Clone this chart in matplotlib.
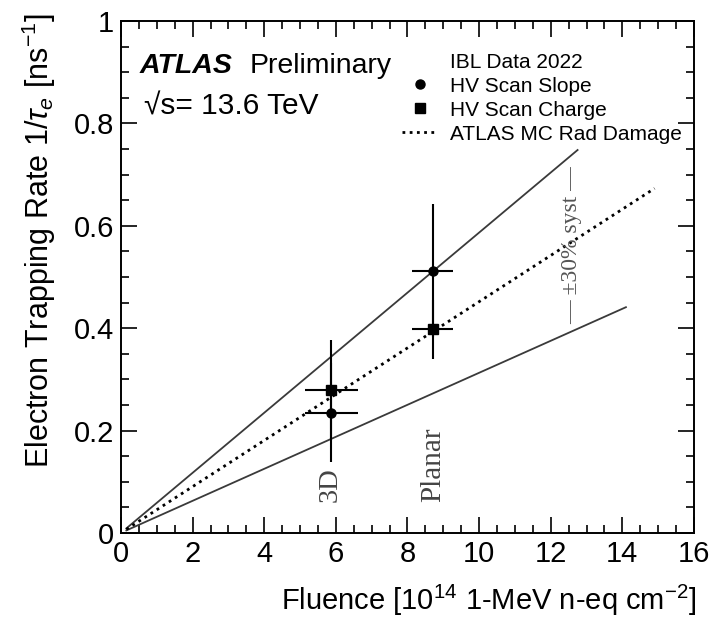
import matplotlib
matplotlib.use("Agg")
from matplotlib import pyplot as plt
from matplotlib.lines import Line2D
from matplotlib.ticker import MultipleLocator, FormatStrFormatter

sensor_labels = ['3D', 'Planar']
fluence = [5.87, 8.70]
fluence_err = [0.74, 0.57]
rate_slope = [0.235, 0.512]
rate_slope_err = [0.097, 0.13]
rate_charge = [0.280, 0.398]
rate_charge_err = [0.097, 0.058]

# MC prediction and +-30% band edges (end points of the drawn lines)
mc_fluence = [0.15, 14.9]
mc_rate = [0.007, 0.673]
up_fluence = [0.15, 12.75]
up_rate = [0.009, 0.748]
low_fluence = [0.15, 14.1]
low_rate = [0.005, 0.441]

SANS = ['Liberation Sans', 'DejaVu Sans']
SERIF = ['Liberation Serif', 'DejaVu Serif']

plt.rcParams['font.family'] = SANS
plt.rcParams['mathtext.fontset'] = 'custom'
plt.rcParams['mathtext.rm'] = 'Liberation Sans'
plt.rcParams['mathtext.it'] = 'Liberation Sans:italic'

fig = plt.figure(figsize=(7.13, 6.23), dpi=100)
ax = fig.add_axes([0.1697, 0.1445, 0.8036, 0.8218])

line_col = '#3a3a3a'
ax.plot(up_fluence, up_rate, color=line_col, lw=1.3)
ax.plot(low_fluence, low_rate, color=line_col, lw=1.3)
ax.plot(mc_fluence, mc_rate, color='black', lw=2.0, linestyle=(0, (1, 1.6)))

ax.errorbar(fluence, rate_slope, xerr=fluence_err, yerr=rate_slope_err,
            fmt='o', color='black', ms=6.5, elinewidth=1.5, capsize=0)
ax.errorbar(fluence, rate_charge, xerr=fluence_err, yerr=rate_charge_err,
            fmt='s', color='black', ms=6.5, elinewidth=1.5, capsize=0)

# sensor type labels
ax.text(fluence[0] - 0.03, 0.094, sensor_labels[0], rotation=90, ha='center', va='center',
        family=SERIF, fontsize=20.5, color='#444444')
ax.text(fluence[1] + 0.03, 0.133, sensor_labels[1], rotation=90, ha='center', va='center',
        family=SERIF, fontsize=21, color='#444444')
ax.text(12.58, 0.562, '\u2014 \u00b130% syst \u2014', rotation=90, ha='center', va='center',
        family=SERIF, fontsize=17, color='#555555')

# ATLAS label
ax.text(0.033, 0.898, 'ATLAS', transform=ax.transAxes, fontsize=20.5,
        fontweight='bold', fontstyle='italic')
ax.text(0.225, 0.898, 'Preliminary', transform=ax.transAxes, fontsize=20.5)
ax.text(0.040, 0.818, '\u221as= 13.6 TeV', transform=ax.transAxes, fontsize=21.5)

# legend
handles = [Line2D([], [], linestyle='none'),
           Line2D([], [], marker='o', color='black', linestyle='none', ms=6.5),
           Line2D([], [], marker='s', color='black', linestyle='none', ms=6.5),
           Line2D([], [], color='black', lw=2.0, linestyle=(0, (1, 1.6)))]
labels = ['IBL Data 2022', 'HV Scan Slope', 'HV Scan Charge', 'ATLAS MC Rad Damage']
ax.legend(handles, labels, loc='upper left', bbox_to_anchor=(0.49, 0.938),
          frameon=False, fontsize=15, handlelength=1.75, handletextpad=0.55,
          labelspacing=0.24, borderpad=0.0, borderaxespad=0.0)

ax.set_xlim(0, 16)
ax.set_ylim(0, 1)
ax.xaxis.set_major_locator(MultipleLocator(2))
ax.xaxis.set_minor_locator(MultipleLocator(0.5))
ax.yaxis.set_major_locator(MultipleLocator(0.2))
ax.yaxis.set_minor_locator(MultipleLocator(0.05))
ax.yaxis.set_major_formatter(FormatStrFormatter('%g'))
ax.tick_params(which='both', direction='in', top=True, right=True, width=1.2)
ax.tick_params(which='major', length=11.5, labelsize=21, pad=5)
ax.tick_params(which='minor', length=5.8)
for s in ax.spines.values():
    s.set_linewidth(1.4)

ax.set_xlabel('Fluence [10$^{14}$ 1-MeV n-eq cm$^{-2}$]', fontsize=21, loc='right')
ax.xaxis.set_label_coords(1.005, -0.098)
ax.set_ylabel('Electron Trapping Rate 1/$\\tau_{e}$ [ns$^{-1}$]', fontsize=22, loc='top')
ax.yaxis.set_label_coords(-0.11, 1.015)

fig.savefig('out.png', dpi=100)
